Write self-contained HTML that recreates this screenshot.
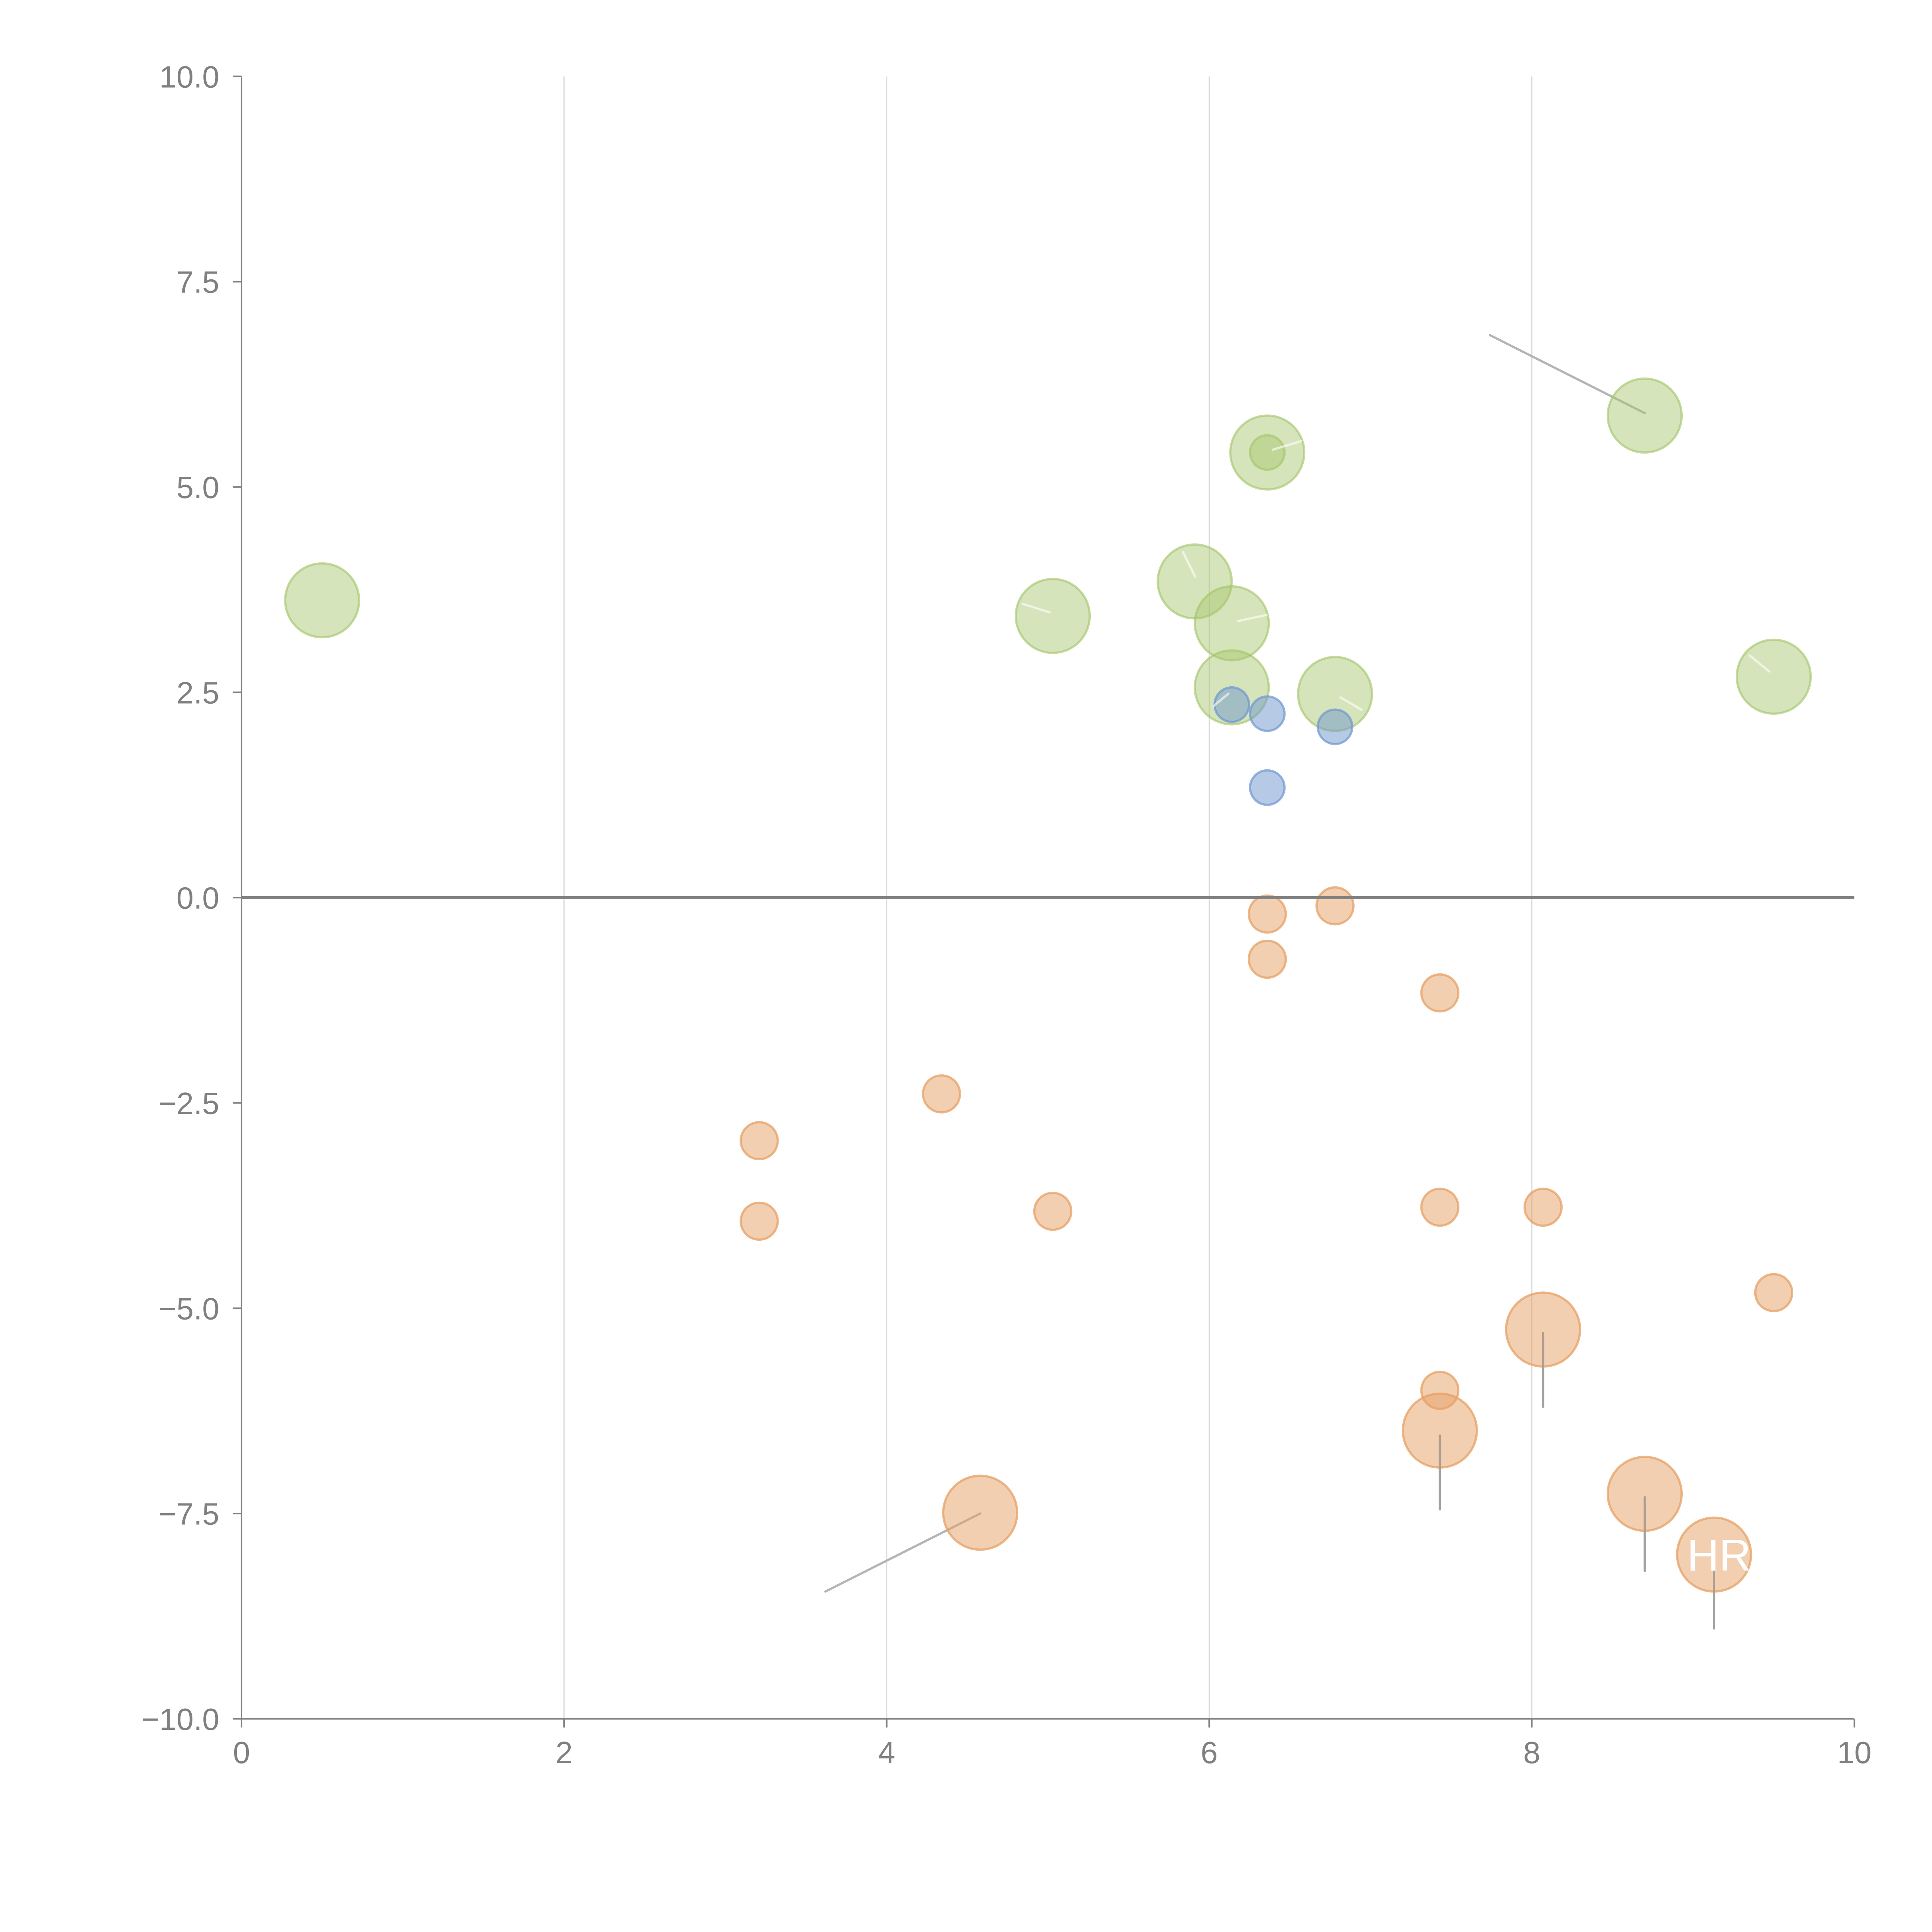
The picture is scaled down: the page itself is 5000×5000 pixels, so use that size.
<!DOCTYPE html>
<html><head><meta charset="utf-8"><style>html,body{margin:0;padding:0;background:#fff}svg{display:block}</style></head>
<body>
<svg id="chart" width="5000" height="5000" viewBox="0 0 1568 1568" xmlns="http://www.w3.org/2000/svg" font-family="Liberation Sans, sans-serif">
<g id="grid"></g>
<g id="leaders"></g>
<g id="marks"></g>
<g id="axes"></g>
</svg>
<script>
const xTicks = [0, 2, 4, 6, 8, 10];
const yTicks = [10, 7.5, 5, 2.5, 0, -2.5, -5, -7.5, -10];
const yTickLabels = ["10.0", "7.5", "5.0", "2.5", "0.0", "\u22122.5", "\u22125.0", "\u22127.5", "\u221210.0"];
const greenX = [0.50, 5.03, 5.91, 6.14, 6.14, 6.36, 6.78, 8.70, 9.50];
const greenY = [3.62, 3.43, 3.85, 3.34, 2.56, 5.42, 2.48, 5.87, 2.69];
const greenSmallX = [6.36];
const greenSmallY = [5.42];
const blueX = [6.14, 6.36, 6.78, 6.36];
const blueY = [2.35, 2.24, 2.08, 1.34];
const orangeSmallX = [6.36, 6.78, 6.36, 7.43, 4.34, 3.21, 3.21, 5.03, 7.43, 8.07, 9.50, 7.43];
const orangeSmallY = [-0.20, -0.10, -0.75, -1.16, -2.39, -2.96, -3.94, -3.82, -3.77, -3.77, -4.81, -6.00];
const orangeBigX = [8.07, 7.43, 4.58, 8.70, 9.13];
const orangeBigY = [-5.26, -6.49, -7.49, -7.26, -8.00];
const leaderFromX = [8.70, 4.58, 8.07, 7.43, 8.70, 9.13];
const leaderFromY = [5.90, -7.50, -5.30, -6.55, -7.30, -8.05];
const leaderToX = [7.74, 3.62, 8.07, 7.43, 8.70, 9.13];
const leaderToY = [6.85, -8.45, -6.20, -7.45, -8.20, -8.90];
const whiteFromX = [6.394, 5.913, 5.011, 6.180, 6.814, 9.473, 6.119];
const whiteFromY = [5.454, 3.908, 3.473, 3.368, 2.438, 2.753, 2.483];
const whiteToX = [6.570, 5.837, 4.843, 6.356, 6.944, 9.351, 6.027];
const whiteToY = [5.559, 4.208, 3.578, 3.443, 2.288, 2.948, 2.333];

const NS = "http://www.w3.org/2000/svg";
const X0 = 196, X1 = 1505, Y0 = 62, Y1 = 1395;
const sx = v => X0 + (v - 0) / 10 * (X1 - X0);
const sy = v => Y1 - (v + 10) / 20 * (Y1 - Y0);
function mk(tag, attrs, parent) {
  const e = document.createElementNS(NS, tag);
  for (const k in attrs) e.setAttribute(k, attrs[k]);
  parent.appendChild(e);
  return e;
}
const grid = document.getElementById('grid');
const axes = document.getElementById('axes');
const marks = document.getElementById('marks');
const leaders = document.getElementById('leaders');

xTicks.forEach(t => {
  if (t > 0 && t < 10) {
    const g = mk('line', {x1: sx(t), x2: sx(t), y1: Y0, y2: Y1, stroke: '#dcdcdc', 'stroke-width': 1}, grid);
    
    
  }
  const tk = mk('line', {x1: sx(t), x2: sx(t), y1: Y1, y2: Y1 + 7, stroke: '#808080', 'stroke-width': 1.3}, axes);
  
  
  const tx = mk('text', {x: sx(t), y: Y1 + 36, 'text-anchor': 'middle', 'font-size': 25, fill: '#808080'}, axes);
  tx.textContent = String(t);
  
  
});
yTicks.forEach((t, i) => {
  const tk = mk('line', {x1: X0 - 7, x2: X0, y1: sy(t), y2: sy(t), stroke: '#808080', 'stroke-width': 1.3}, axes);
  
  
  const tx = mk('text', {x: X0 - 18, y: sy(t) + 9, 'text-anchor': 'end', 'font-size': 25, fill: '#808080'}, axes);
  tx.textContent = yTickLabels[i];
  
  
});
const ya = mk('line', {x1: X0, x2: X0, y1: Y0, y2: Y1, stroke: '#808080', 'stroke-width': 1.3}, axes);


const xa = mk('line', {x1: X0, x2: X1, y1: Y1, y2: Y1, stroke: '#808080', 'stroke-width': 1.3}, axes);


const zl = mk('line', {x1: X0, x2: X1, y1: sy(0), y2: sy(0), stroke: '#808080', 'stroke-width': 2.5}, axes);



leaderFromX.forEach((v, i) => {
  const l = mk('line', {x1: sx(v), y1: sy(leaderFromY[i]), x2: sx(leaderToX[i]), y2: sy(leaderToY[i]), stroke: '#b4b4b4', 'stroke-width': 1.8, 'stroke-linecap': 'round'}, leaders);
  
  
});

function bubbles(xs, ys, r, fill, stroke, name) {
  xs.forEach((v, i) => {
    const c = mk('circle', {cx: sx(v), cy: sy(ys[i]), r: r, fill: fill, stroke: stroke, 'stroke-width': 1.8}, marks);
    
    
  });
}
bubbles(greenX, greenY, 30, 'rgba(168,198,110,0.47)', 'rgba(160,195,100,0.6)', 'green-bubble');
bubbles(greenSmallX, greenSmallY, 14, 'rgba(168,198,110,0.47)', 'rgba(160,195,100,0.6)', 'green-small-bubble');
bubbles(blueX, blueY, 14, 'rgba(110,150,205,0.5)', 'rgba(110,150,210,0.7)', 'blue-bubble');
bubbles(orangeSmallX, orangeSmallY, 15, 'rgba(230,160,100,0.5)', 'rgba(230,160,100,0.75)', 'orange-small-bubble');
bubbles(orangeBigX, orangeBigY, 30, 'rgba(230,160,100,0.5)', 'rgba(230,160,100,0.75)', 'orange-bubble');

whiteFromX.forEach((v, i) => {
  const l = mk('line', {x1: sx(v), y1: sy(whiteFromY[i]), x2: sx(whiteToX[i]), y2: sy(whiteToY[i]), stroke: 'rgba(255,255,255,0.6)', 'stroke-width': 1.8, 'stroke-linecap': 'round'}, marks);
  
  
});

[2, 3, 4, 5].forEach(i => {
  const l = mk('line', {x1: sx(leaderFromX[i]), y1: sy(leaderFromY[i]), x2: sx(leaderToX[i]), y2: sy(leaderToY[i]), stroke: 'rgba(150,150,150,0.6)', 'stroke-width': 1.6, 'stroke-linecap': 'round'}, marks);
  
  
});

const hr = mk('text', {x: sx(9.13) + 4, y: sy(-8.0) + 13, 'text-anchor': 'middle', 'font-size': 36, fill: '#ffffff'}, marks);
hr.textContent = 'HR';


</script>
</body></html>
